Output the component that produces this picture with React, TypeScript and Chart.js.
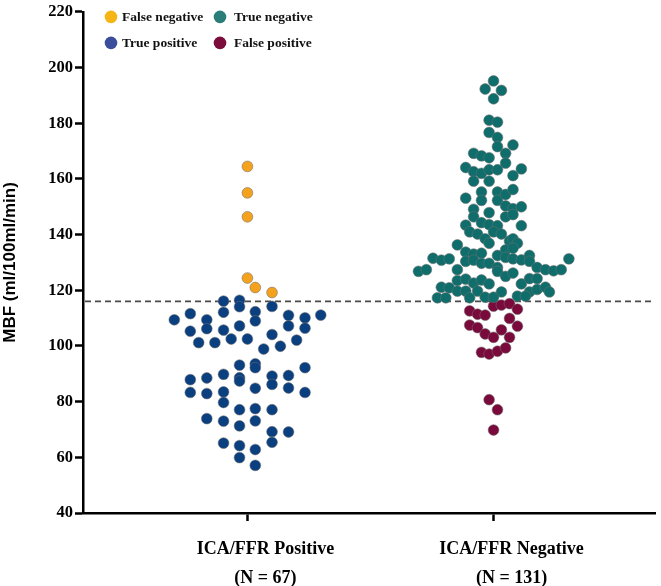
import React, { useEffect, useRef } from "react";
import { Chart, registerables } from "chart.js";

Chart.register(...registerables);

// ---- Data ----
const categories = ["ICA/FFR Positive", "ICA/FFR Negative"];
const groupSizes = ["(N = 67)", "(N = 131)"];
const categoryPositions = [1, 2];
const yTicks = [40, 60, 80, 100, 120, 140, 160, 180, 200, 220];
const yRange = [40, 220];
const threshold = 116;
const yTitle = "MBF (ml/100ml/min)";

const legendLabels = ["False negative", "True negative", "True positive", "False positive"];

// ICA/FFR Positive group: false negatives (MBF above threshold)
const falseNegMBF = [164.5, 155.0, 146.4, 124.4, 121.0, 119.2];
const falseNegJitter = [0, 0, 0, 0, 0.032, 0.1];

// ICA/FFR Positive group: true positives
const truePosMBF = [
  116.1, 116.4, 114.1, 114.2, 112.1, 112.3, 111.6, 109.4, 109.4, 109.0, 111.0, 110.1, 111.1,
  107.2, 107.2, 106.4, 105.3, 106.2, 105.7, 104.1, 102.5, 102.5, 102.1, 101.2, 101.2, 98.9,
  99.9, 93.1, 93.6, 92.2, 92.2, 87.9, 88.5, 89.8, 88.6, 87.4, 89.2, 86.2, 89.4, 83.3, 82.9,
  83.5, 84.8, 84.9, 83.3, 79.7, 77.1, 77.5, 77.1, 73.9, 73.0, 71.3, 73.1, 69.2, 69.1, 65.1,
  64.2, 62.8, 65.4, 59.9, 57.1,
];
const truePosJitter = [
  -0.097, -0.032, -0.032, 0.1, -0.097, 0.032, -0.232, -0.297, -0.165, 0.032, 0.167, 0.234, 0.298,
  -0.032, 0.167, 0.234, -0.232, -0.165, -0.097, 0.1, -0.066, 0, 0.2, -0.198, -0.132, 0.066,
  0.134, -0.032, 0.032, 0.032, 0.234, -0.232, -0.165, -0.097, -0.032, -0.032, 0.1, 0.1, 0.167, -0.232, -0.165,
  -0.097, 0.032, 0.167, 0.234, -0.097, -0.032, 0.032, 0.1, -0.165, -0.097, -0.032, 0.032, 0.1, 0.167, -0.097,
  -0.032, 0.032, 0.1, -0.032, 0.032,
];

// ICA/FFR Negative group: true negatives
const trueNegMBF = [
  195.2, 192.3, 191.8, 188.8, 181.1, 180.4, 176.7, 174.9, 171.6, 172.2, 169.2, 168.3, 167.6, 169.2,
  165.7, 164.1, 162.6, 162.0, 163.3, 163.3, 161.2, 163.6, 159.2, 159.2,
  153.1, 155.3, 152.3, 155.3, 152.3, 154.4, 156.2, 150.3, 149.3, 150.0, 149.1, 146.4, 147.9, 146.4,
  147.2, 143.4, 144.3, 143.6, 143.2, 143.2, 141.0, 140.2, 141.0, 140.2, 138.5, 136.9, 137.7, 138.5,
  136.9, 136.3, 134.5, 135.1, 133.7, 133.0, 133.3, 132.5, 131.8, 131.3, 130.9, 132.5, 130.4, 131.5,
  130.8, 131.3, 130.4, 130.8, 129.7, 129.7, 128.2, 131.3, 126.8, 127.4, 127.4, 126.8, 125.0, 126.2,
  128.2, 127.4, 127.0, 127.4, 123.5, 124.0, 122.6, 123.7, 122.3, 122.3, 124.2, 124.2, 121.1, 120.9,
  119.7, 119.7, 119.7, 119.4, 119.4, 120.3, 121.1, 119.4, 117.3, 117.3, 117.3, 117.5, 117.5, 117.9, 117.9,
];
const trueNegJitter = [
  0, -0.034, 0.032, 0, -0.018, 0.016, -0.018, 0.016, 0.016, 0.079, -0.081, -0.049, -0.018, 0.049,
  0.049, -0.113, -0.081, -0.049, -0.018, 0.016, 0.079, 0.113, -0.081, -0.018,
  -0.113, -0.049, -0.049, 0.016, 0.016, 0.049, 0.079, 0.049, 0.079, 0.113, -0.081, -0.081, -0.018, 0.049,
  0.079, -0.113, -0.049, -0.018, 0.016, 0.113, -0.097, -0.065, 0, 0.032, -0.034, -0.018, 0.065, 0.079,
  0.097, -0.147, 0.049, 0.079, -0.113, -0.081, -0.049, 0.016, 0.049, 0.079, 0.113, 0.146, 0.146, -0.246,
  -0.212, -0.18, -0.113, -0.081, -0.049, -0.018, 0.016, 0.306, -0.305, -0.273, -0.147, 0.016, 0.049, 0.079,
  0.177, 0.211, 0.244, 0.275, -0.147, -0.113, -0.081, -0.049, -0.018, 0.113, 0.146, 0.177, -0.212, -0.18,
  -0.147, -0.113, -0.065, 0.032, 0.146, 0.177, 0.211, 0.227, -0.228, -0.194, -0.097, -0.034, 0, 0.097, 0.13,
];

// ICA/FFR Negative group: false positives
const falsePosMBF = [
  114.3, 114.7, 115.2, 113.2, 112.6, 111.4, 111.1, 109.9, 107.5, 106.6, 105.8, 107.1, 104.3, 103.1,
  103.1, 97.7, 97.1, 98.1, 99.3, 80.7, 77.1, 69.8,
];
const falsePosJitter = [
  0, 0.032, 0.065, 0.097, -0.097, -0.065, -0.034, 0.065, -0.097, -0.065, 0.032, 0.097, -0.034, 0,
  0.065, -0.049, -0.018, 0.016, 0.049, -0.018, 0.016, 0,
];

// ---- Styles ----
const COLORS = {
  falseNeg: "#F4A21E",
  truePos: "#0A3F80",
  trueNeg: "#0F6E6C",
  falsePos: "#7A0A3C",
};
const LEGEND_COLORS = ["#F5B514", "#2A7D78", "#3B4E9B", "#7B0C3B"];
const SERIF = "'Liberation Serif', 'Times New Roman', serif";
const SANS = "'Liberation Sans', Arial, sans-serif";

function toPoints(values: number[], jitter: number[], pos: number) {
  return values.map((v, i) => ({ x: pos + jitter[i], y: v }));
}

const thresholdPlugin = {
  id: "thresholdLine",
  beforeDatasetsDraw(chart: any) {
    const { ctx, chartArea, scales } = chart;
    const y = scales.y.getPixelForValue(threshold);
    ctx.save();
    ctx.strokeStyle = "#4a4a4a";
    ctx.lineWidth = 1.6;
    ctx.setLineDash([6, 4]);
    ctx.beginPath();
    ctx.moveTo(chartArea.left + 2, y);
    ctx.lineTo(chartArea.right, y);
    ctx.stroke();
    ctx.restore();
  },
};

const legendPlugin = {
  id: "gridLegend",
  afterDraw(chart: any) {
    const { ctx, chartArea } = chart;
    const left = chartArea.left;
    const cols = [left + 28, left + 137];
    const textGap = [11, 14];
    const rows = [chartArea.top + 5, chartArea.top + 31];
    ctx.save();
    ctx.font = `bold 13.5px ${SERIF}`;
    ctx.textBaseline = "middle";
    ctx.textAlign = "left";
    legendLabels.forEach((label, i) => {
      const c = i % 2;
      const r = Math.floor(i / 2);
      const cx = cols[c];
      const cy = rows[r];
      ctx.beginPath();
      ctx.arc(cx, cy, 6.3, 0, Math.PI * 2);
      ctx.fillStyle = LEGEND_COLORS[i];
      ctx.fill();
      ctx.fillStyle = "#111";
      ctx.fillText(label, cx + textGap[c], cy + 1);
    });
    ctx.restore();
  },
};

export default function App() {
  const canvasRef = useRef<HTMLCanvasElement | null>(null);

  useEffect(() => {
    document.body.style.margin = "0";
    const canvas = canvasRef.current;
    if (!canvas) return;

    const pointStyle = {
      pointRadius: 5.4,
      pointHoverRadius: 5.4,
      pointBorderWidth: 0.6,
      pointBorderColor: "rgba(110,110,110,0.9)",
      showLine: false,
    };

    const chart = new Chart(canvas, {
      type: "scatter",
      data: {
        datasets: [
          {
            label: legendLabels[2],
            data: toPoints(truePosMBF, truePosJitter, categoryPositions[0]),
            backgroundColor: COLORS.truePos,
            ...pointStyle,
          },
          {
            label: legendLabels[0],
            data: toPoints(falseNegMBF, falseNegJitter, categoryPositions[0]),
            backgroundColor: COLORS.falseNeg,
            ...pointStyle,
          },
          {
            label: legendLabels[1],
            data: toPoints(trueNegMBF, trueNegJitter, categoryPositions[1]),
            backgroundColor: COLORS.trueNeg,
            ...pointStyle,
          },
          {
            label: legendLabels[3],
            data: toPoints(falsePosMBF, falsePosJitter, categoryPositions[1]),
            backgroundColor: COLORS.falsePos,
            ...pointStyle,
          },
        ],
      },
      options: {
        animation: false,
        responsive: false,
        devicePixelRatio: 1,
        layout: { padding: { top: 8, right: 4, left: 0, bottom: 0 } },
        plugins: {
          legend: { display: false },
          tooltip: { enabled: false },
        },
        scales: {
          x: {
            type: "linear",
            min: 0.332,
            max: 2.656,
            afterBuildTicks: (axis: any) => {
              axis.ticks = categoryPositions.map((v) => ({ value: v }));
            },
            afterFit: (scale: any) => {
              scale.height = 73;
            },
            ticks: {
              autoSkip: false,
              maxRotation: 0,
              minRotation: 0,
              padding: 14,
              labelOffset: 18,
              color: "#000",
              font: { family: SERIF, weight: "bold", size: 18, lineHeight: 1.6 },
              callback: (_v: any, i: number) => [categories[i], groupSizes[i]],
            },
            grid: {
              drawOnChartArea: false,
              drawTicks: true,
              tickLength: 8,
              tickWidth: 2.5,
              tickColor: "#000",
            },
            border: { display: true, color: "#000", width: 2.5 },
          },
          y: {
            type: "linear",
            min: yRange[0],
            max: yRange[1],
            afterBuildTicks: (axis: any) => {
              axis.ticks = yTicks.map((v) => ({ value: v }));
            },
            afterFit: (scale: any) => {
              scale.width = 83;
            },
            ticks: {
              padding: 2,
              color: "#000",
              font: { family: SERIF, weight: "bold", size: 16.5 },
            },
            grid: {
              drawOnChartArea: false,
              drawTicks: true,
              tickLength: 8,
              tickWidth: 2.5,
              tickColor: "#000",
            },
            border: { display: true, color: "#000", width: 2.5 },
            title: {
              display: true,
              text: yTitle,
              color: "#000",
              font: { family: SANS, weight: "bold", size: 17 },
              padding: { top: 0, bottom: 0 },
            },
          },
        },
      },
      plugins: [thresholdPlugin, legendPlugin],
    });

    return () => chart.destroy();
  }, []);

  return (
    <div style={{ width: 661, height: 586, position: "relative" }}>
      <canvas ref={canvasRef} width={661} height={586} style={{ display: "block" }} />
    </div>
  );
}
